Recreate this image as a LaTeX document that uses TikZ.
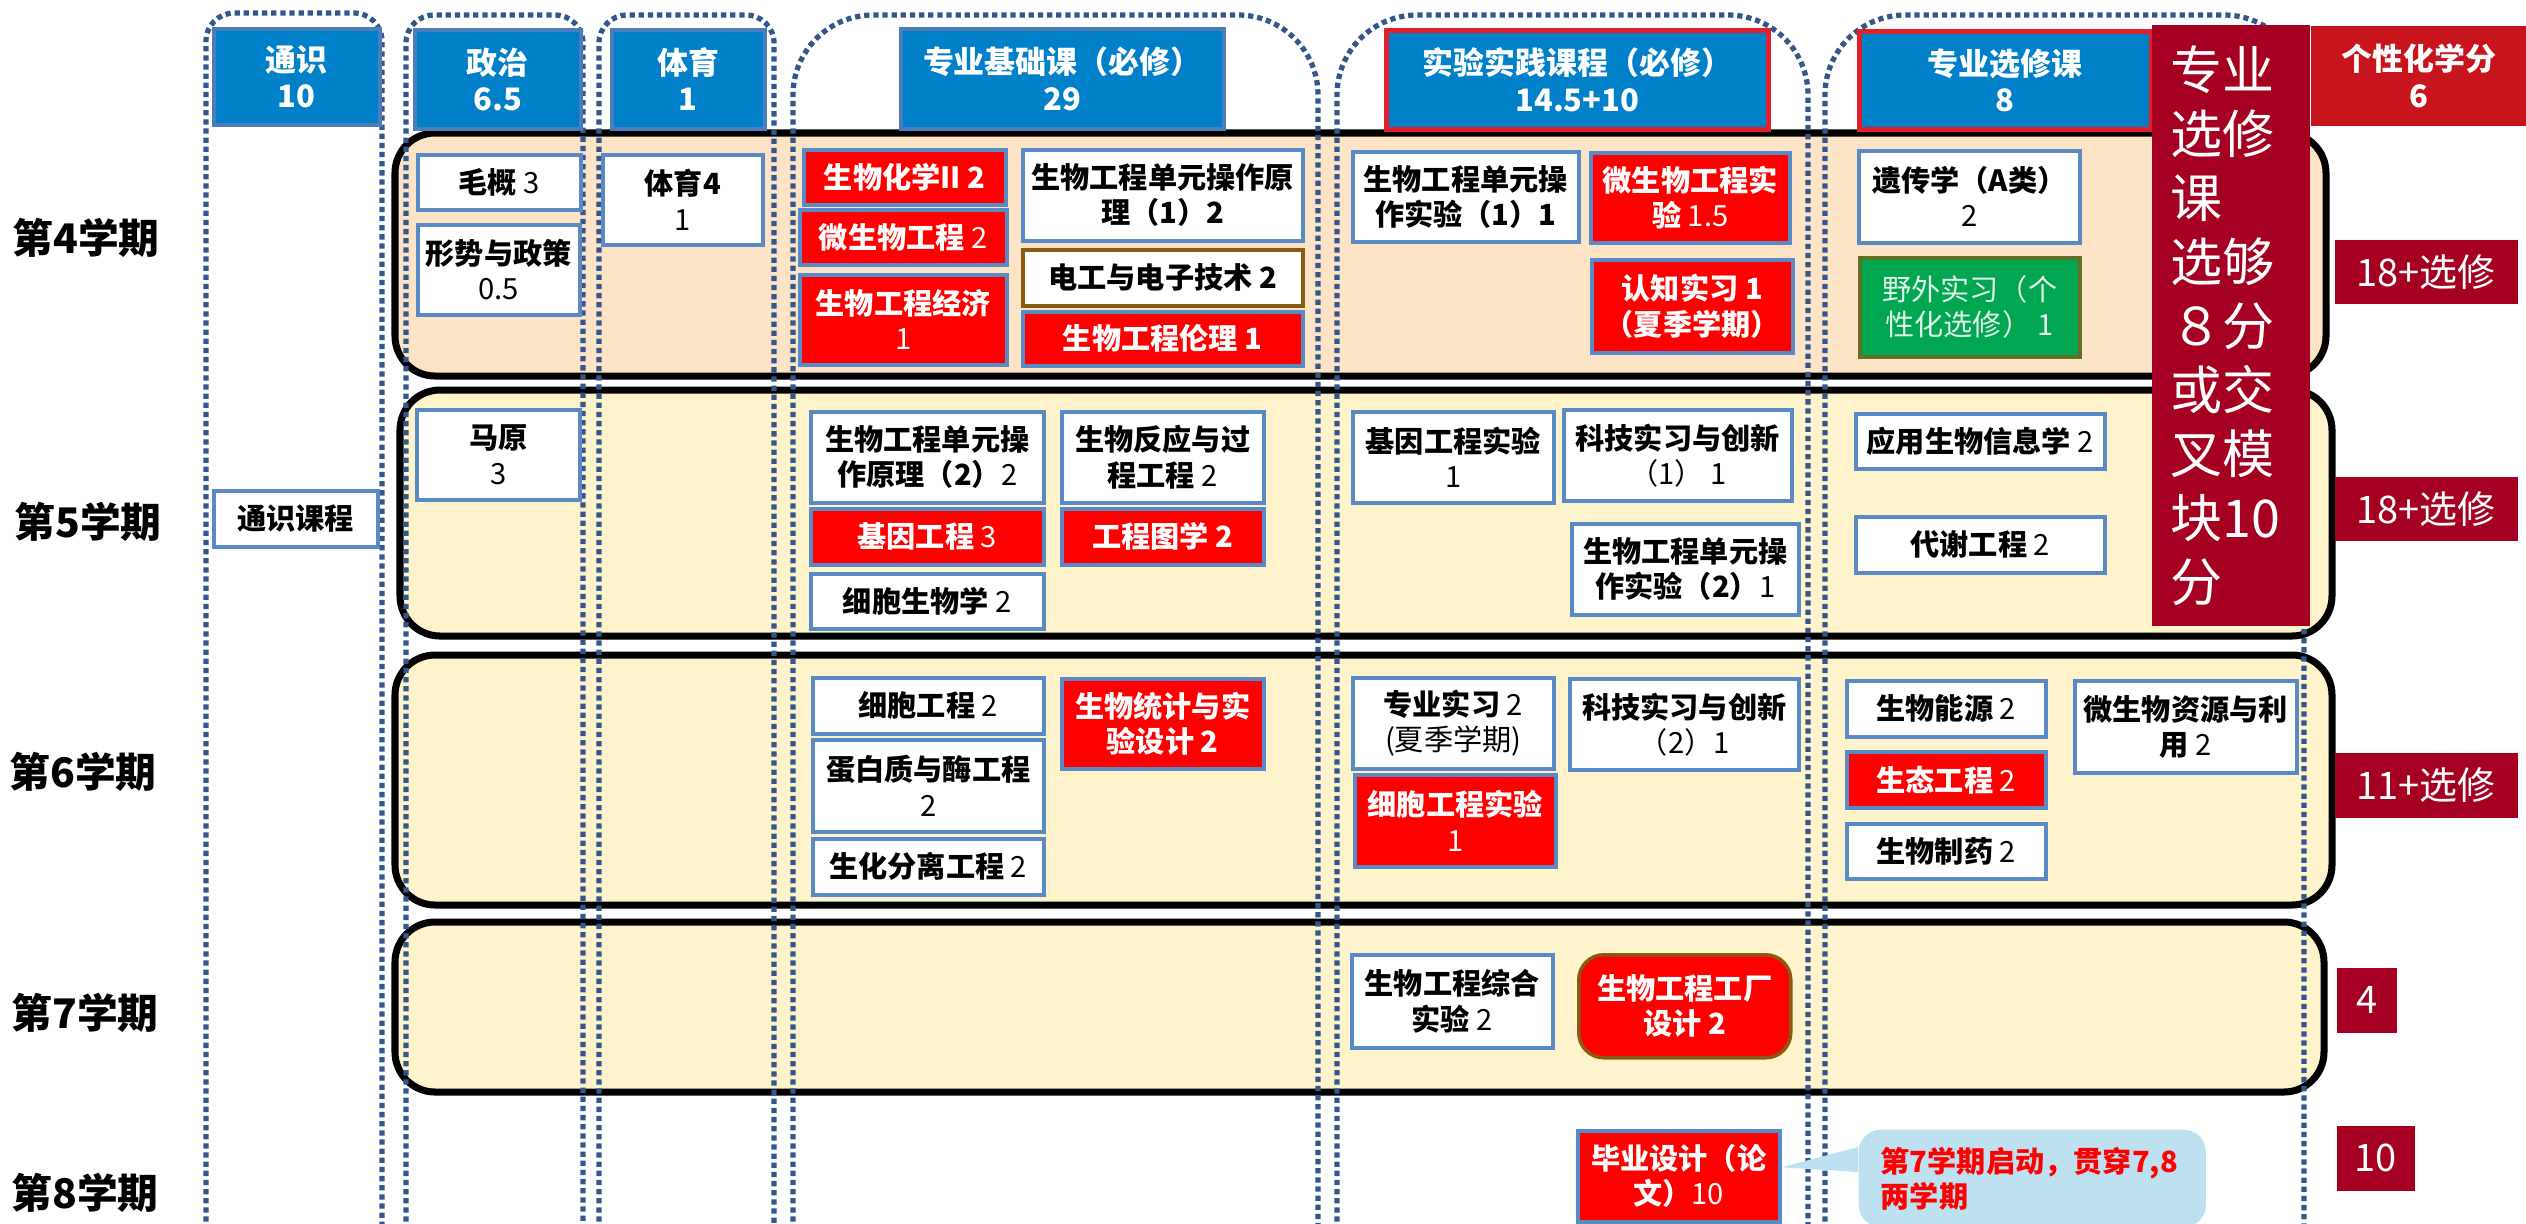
\documentclass[tikz,border=0pt]{standalone}
\usepackage{fontspec}
\setmainfont{Noto Sans CJK SC}
\definecolor{hdrblue}{HTML}{0080C9}
\definecolor{hdrline}{HTML}{4A7DBA}
\definecolor{boxline}{HTML}{5A8AC6}
\definecolor{colline}{HTML}{33578C}
\definecolor{peach}{HTML}{FDE4C7}
\definecolor{cream}{HTML}{FFF3CB}
\definecolor{wine}{HTML}{A50021}
\definecolor{gxred}{HTML}{C8151D}
\definecolor{hdrred}{HTML}{E0202A}
\definecolor{brownline}{HTML}{8A5A10}
\definecolor{fieldgreen}{HTML}{00A650}
\definecolor{tipblue}{HTML}{BDE1F1}
\newcommand{\coursefont}{\fontsize{8.3}{10}\selectfont}
\newcommand{\hdrfont}{\fontsize{8.8}{10.3}\selectfont\bfseries}
\newcommand{\semfont}{\fontsize{11.6}{13}\selectfont\bfseries}
\newcommand{\creditfont}{\fontsize{10.8}{12}\selectfont}
\tikzset{
  cell/.style 2 args={anchor=north west, minimum width=#1*0.01cm, minimum height=#2*0.01cm, inner sep=1pt, align=center},
  course/.style={draw=boxline, line width=1pt, fill=white, font=\coursefont},
  redcourse/.style={course, fill=red, text=white},
  hdr/.style={draw=hdrline, line width=1pt, fill=hdrblue, text=white, font=\hdrfont},
  credit/.style={fill=wine, text=white, font=\creditfont},
  sem/.style={font=\semfont},
  rowframe/.style={draw=black, line width=2pt, rounded corners=0.4cm},
  colbound/.style={draw=colline, line width=1.5pt, dash pattern=on 1.5pt off 1.1pt},
}
\begin{document}
\begin{tikzpicture}[x=0.01cm, y=-0.01cm]
    \useasboundingbox (0,0) rectangle (2526,1223);
    % semester rows
    \draw[rowframe, fill=peach] (395,133) rectangle (2326,376);
    \draw[rowframe, fill=cream] (400,390) rectangle (2332,636);
    \draw[rowframe, fill=cream] (395,655) rectangle (2332,905);
    \draw[rowframe, fill=cream] (395,922) rectangle (2324,1092);
    % dotted column outlines
    \draw[colbound, rounded corners=0.28cm] (206,1240) -- (206,13) -- (382,13) -- (382,1240);
    \draw[colbound, rounded corners=0.28cm] (406,1240) -- (406,15) -- (583,15) -- (583,1240);
    \draw[colbound, rounded corners=0.28cm] (599,1240) -- (599,15) -- (774,15) -- (774,1240);
    \draw[colbound, rounded corners=0.8cm] (793,1240) -- (793,15) -- (1318,15) -- (1318,1240);
    \draw[colbound, rounded corners=0.8cm] (1337,1240) -- (1337,15) -- (1808,15) -- (1808,1240);
    \draw[colbound, rounded corners=0.8cm] (1825,1240) -- (1825,15) -- (2304,15) -- (2304,1240);
    % column headers
    \node[hdr, cell={166}{96}] (hts) at (212,27) {通识\\10};
    \node[hdr, cell={166}{99}] (hzz) at (413,28) {政治\\6.5};
    \node[hdr, cell={153}{99}] (hty) at (610,28) {体育\\1};
    \node[hdr, cell={323}{100}] (hjc) at (899,27) {专业基础课（必修）\\29};
    \node[hdr, draw=hdrred, line width=1.3pt, cell={382}{99}] (hsy) at (1384,28) {实验实践课程（必修）\\14.5+10};
    \node[hdr, draw=hdrred, line width=1.3pt, cell={292}{98}] (hxx) at (1857,29) {专业选修课\\8};
    \node[hdr, draw=none, fill=gxred, cell={217}{100}] (hgx) at (2309,24) {个性化学分\\6};
    \node[fill=wine, text=white, anchor=north west, minimum width=1.58cm, minimum height=6.01cm,
          text width=1.2cm, inner xsep=0.19cm, align=left,
          font=\fontsize{14.8}{18.2}\selectfont] (xuan) at (2151,24)
          {专业\\选修\\课\\选够\\８分\\或交\\叉模\\块10\\分};
    % semester labels
    \node[sem] (s4) at (86,238) {第4学期};
    \node[sem] (s5) at (88,522) {第5学期};
    \node[sem] (s6) at (83,772) {第6学期};
    \node[sem] (s7) at (85,1013) {第7学期};
    \node[sem] (s8) at (85,1193) {第8学期};
    \node[course, cell={164}{56}] (tskc) at (212,489) {\textbf{通识课程}};
    % 4th semester
    \node[course, cell={163}{55}] (mg) at (416,153) {\textbf{毛概} 3};
    \node[course, cell={162}{90}] (xs) at (416,223) {\textbf{形势与政策}\\0.5};
    \node[course, cell={160}{90}] (ty4) at (601,153) {\textbf{体育4}\\1};
    \node[redcourse, cell={202}{55}] (shx) at (802,148) {\textbf{生物化学II 2}};
    \node[redcourse, cell={207}{55}] (wsw) at (798,208) {\textbf{微生物工程} 2};
    \node[redcourse, cell={207}{90}] (jj) at (798,273) {\textbf{生物工程经济}\\1};
    \node[course, cell={280}{91}] (dy1) at (1021,148) {\textbf{生物工程单元操作原}\\\textbf{理（1）2}};
    \node[course, draw=brownline, cell={280}{56}] (dg) at (1021,248) {\textbf{电工与电子技术 2}};
    \node[redcourse, cell={280}{54}] (ll) at (1021,310) {\textbf{生物工程伦理 1}};
    \node[course, cell={226}{90}] (sy1) at (1351,150) {\textbf{生物工程单元操}\\\textbf{作实验（1）1}};
    \node[redcourse, cell={199}{90}] (wsy) at (1589,151) {\textbf{微生物工程实}\\\textbf{验} 1.5};
    \node[redcourse, cell={201}{93}] (rz) at (1590,258) {\textbf{认知实习 1}\\\textbf{（夏季学期）}};
    \node[course, cell={221}{92}] (yc) at (1857,149) {\textbf{遗传学（A类）}\\2};
    \node[course, draw=brownline!70!fieldgreen, fill=fieldgreen, text=white!88!fieldgreen, cell={220}{99}] (yw) at (1858,256) {野外实习（个\\性化选修） 1};
    % 5th semester
    \node[course, cell={163}{90}] (my) at (415,408) {\textbf{马原}\\3};
    \node[course, cell={233}{91}] (dy2) at (809,410) {\textbf{生物工程单元操}\\\textbf{作原理（2）}2};
    \node[course, cell={202}{91}] (fy) at (1060,410) {\textbf{生物反应与过}\\\textbf{程工程} 2};
    \node[redcourse, cell={233}{56}] (jy) at (809,507) {\textbf{基因工程} 3};
    \node[redcourse, cell={202}{56}] (tx) at (1060,507) {\textbf{工程图学 2}};
    \node[course, cell={233}{55}] (xb) at (809,572) {\textbf{细胞生物学} 2};
    \node[course, cell={201}{91}] (jysy) at (1351,410) {\textbf{基因工程实验}\\1};
    \node[course, cell={228}{91}] (kj1) at (1562,408) {\textbf{科技实习与创新}\\（1） 1};
    \node[course, cell={227}{91}] (sy2) at (1570,522) {\textbf{生物工程单元操}\\\textbf{作实验（2）}1};
    \node[course, cell={249}{55}] (yy) at (1854,412) {\textbf{应用生物信息学} 2};
    \node[course, cell={249}{56}] (dx) at (1854,515) {\textbf{代谢工程} 2};
    % 6th semester
    \node[course, cell={231}{56}] (xbgc) at (811,676) {\textbf{细胞工程} 2};
    \node[course, cell={231}{92}] (db) at (811,738) {\textbf{蛋白质与酶工程}\\2};
    \node[course, cell={231}{56}] (fl) at (811,837) {\textbf{生化分离工程} 2};
    \node[redcourse, cell={202}{90}] (tj) at (1060,677) {\textbf{生物统计与实}\\\textbf{验设计 2}};
    \node[course, cell={201}{91}] (zysx) at (1351,676) {\textbf{专业实习} 2\\(夏季学期)};
    \node[course, cell={229}{91}] (kj2) at (1568,677) {\textbf{科技实习与创新}\\（2）1};
    \node[redcourse, cell={201}{92}] (xbsy) at (1353,773) {\textbf{细胞工程实验}\\1};
    \node[course, cell={199}{56}] (ny) at (1845,679) {\textbf{生物能源} 2};
    \node[redcourse, cell={199}{56}] (st) at (1845,750) {\textbf{生态工程} 2};
    \node[course, cell={199}{55}] (zy) at (1845,822) {\textbf{生物制药} 2};
    \node[course, cell={222}{92}] (wzy) at (2073,679) {\textbf{微生物资源与利}\\\textbf{用} 2};
    % 7th and 8th semester
    \node[course, cell={201}{93}] (zh) at (1350,953) {\textbf{生物工程综合}\\\textbf{实验} 2};
    \node[redcourse, draw=brownline, rounded corners=0.25cm, cell={212}{103}] (gc) at (1577,953) {\textbf{生物工程工厂}\\\textbf{设计 2}};
    \node[redcourse, cell={202}{91}] (bs) at (1576,1129) {\textbf{毕业设计（论}\\\textbf{文）}10};
    \node[fill=tipblue, rounded corners=0.22cm, anchor=north west, text width=3.03cm, align=left,
          inner xsep=0.22cm, inner ysep=0.17cm, text=red, font=\coursefont\bfseries] (note) at (1858,1129)
          {第7学期启动，贯穿7,8\\两学期};
    \fill[tipblue] ([yshift=0.09cm]bs.east) -- ([yshift=-0.18cm]note.north west) -- ([yshift=-0.43cm]note.north west) -- cycle;
    % credits per semester
    \node[credit, cell={183}{64}] (c4) at (2334,239) {18+选修};
    \node[credit, cell={183}{64}] (c5) at (2334,476) {18+选修};
    \node[credit, cell={183}{65}] (c6) at (2334,752) {11+选修};
    \node[credit, cell={60}{65}] (c7) at (2336,967) {4};
    \node[credit, cell={78}{65}] (c8) at (2336,1125) {10};
\end{tikzpicture}
\end{document}
